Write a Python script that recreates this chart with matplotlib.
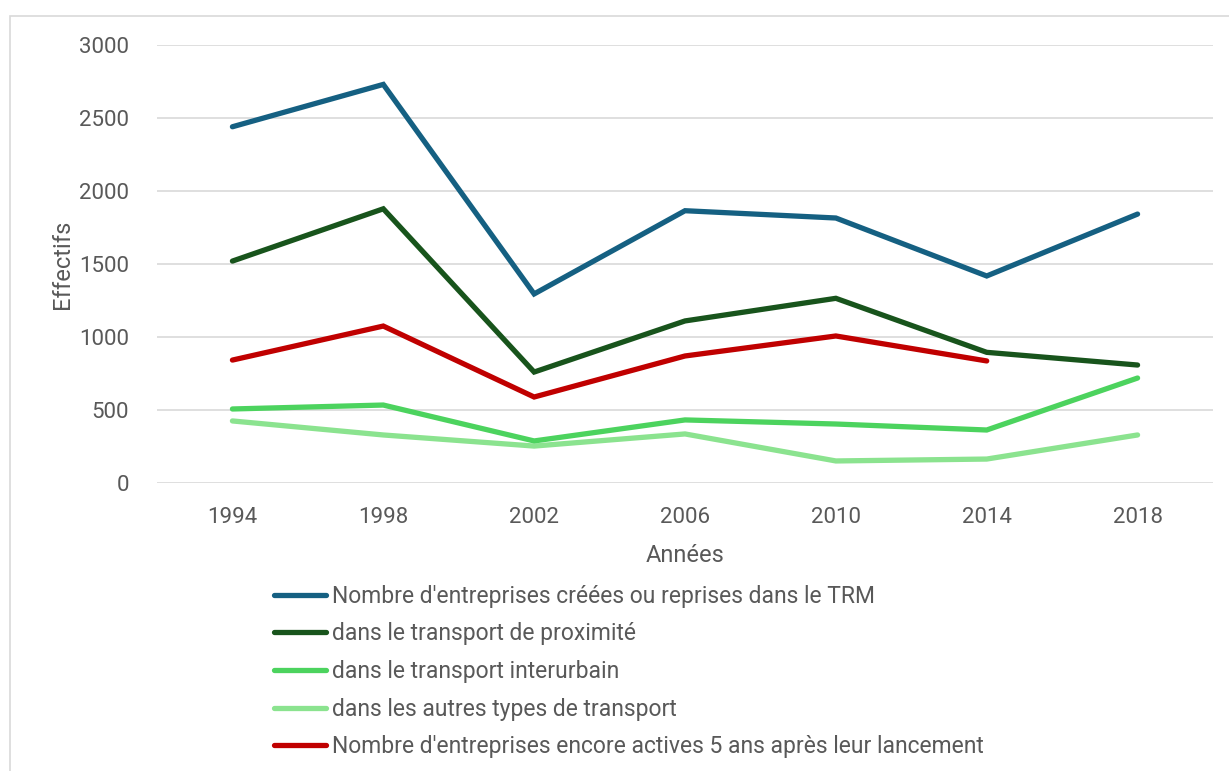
import matplotlib
matplotlib.use("Agg")
import matplotlib.pyplot as plt
from matplotlib.patches import Rectangle
from matplotlib.lines import Line2D

years = ["1994", "1998", "2002", "2006", "2010", "2014", "2018"]
total = [2440, 2730, 1295, 1865, 1815, 1418, 1842]
proximite = [1520, 1878, 760, 1110, 1265, 895, 808]
interurbain = [507, 534, 288, 432, 404, 363, 719]
autres = [425, 329, 253, 336, 151, 164, 329]
actives = [842, 1075, 589, 870, 1007, 836, None]

labels = [
    "Nombre d'entreprises créées ou reprises dans le TRM",
    "dans le transport de proximité",
    "dans le transport interurbain",
    "dans les autres types de transport",
    "Nombre d'entreprises encore actives 5 ans après leur lancement",
]
colors = ["#156082", "#18541C", "#4CD35E", "#8BE38F", "#C00000"]

plt.rcParams['font.family'] = ['Roboto', 'DejaVu Sans']

W, H = 1229, 771
fig = plt.figure(figsize=(W / 100, H / 100), dpi=100)
fig.patches.append(Rectangle((10 / W, -0.1), 1.2, (H - 16) / H + 0.1, transform=fig.transFigure,
                             fill=False, edgecolor="#D9D9D9", linewidth=1.2))

ax = fig.add_axes([157 / W, 1 - 483 / H, (1213 - 157) / W, (483 - 45) / H])
x = list(range(len(years)))
series = [total, proximite, interurbain, autres, actives]
order = [3, 2, 4, 1, 0]
for i in order:
    xs = [xi for xi, v in zip(x, series[i]) if v is not None]
    ys = [v for v in series[i] if v is not None]
    ax.plot(xs, ys, color=colors[i], linewidth=3.8, solid_capstyle="round",
            solid_joinstyle="miter", zorder=3)

ax.set_xlim(-0.5, len(years) - 0.5)
ax.set_ylim(0, 3000)
ax.set_yticks(range(0, 3001, 500))
ax.set_xticks(x)
ax.set_xticklabels(years)
ax.grid(axis="y", color="#D9D9D9", linewidth=1.2)
ax.set_axisbelow(True)
for s in ax.spines.values():
    s.set_visible(False)
ax.tick_params(length=0, labelsize=16, colors="#595959", pad=20)
ax.tick_params(axis="x", pad=17)
ax.set_xlabel("Années", fontsize=17, color="#595959", labelpad=12)
ax.set_ylabel("Effectifs", fontsize=17, color="#595959", labelpad=4)

handles = [Line2D([0], [0], color=c, linewidth=3.8, solid_capstyle="round") for c in colors]
fig.legend(handles, labels, loc="upper left", bbox_to_anchor=(253 / W, 1 - 564 / H),
           frameon=False, fontsize=16.5, labelcolor="#595959", handlelength=2.3,
           handletextpad=0.25, labelspacing=0.64)

fig.savefig("out.png", dpi=100)
